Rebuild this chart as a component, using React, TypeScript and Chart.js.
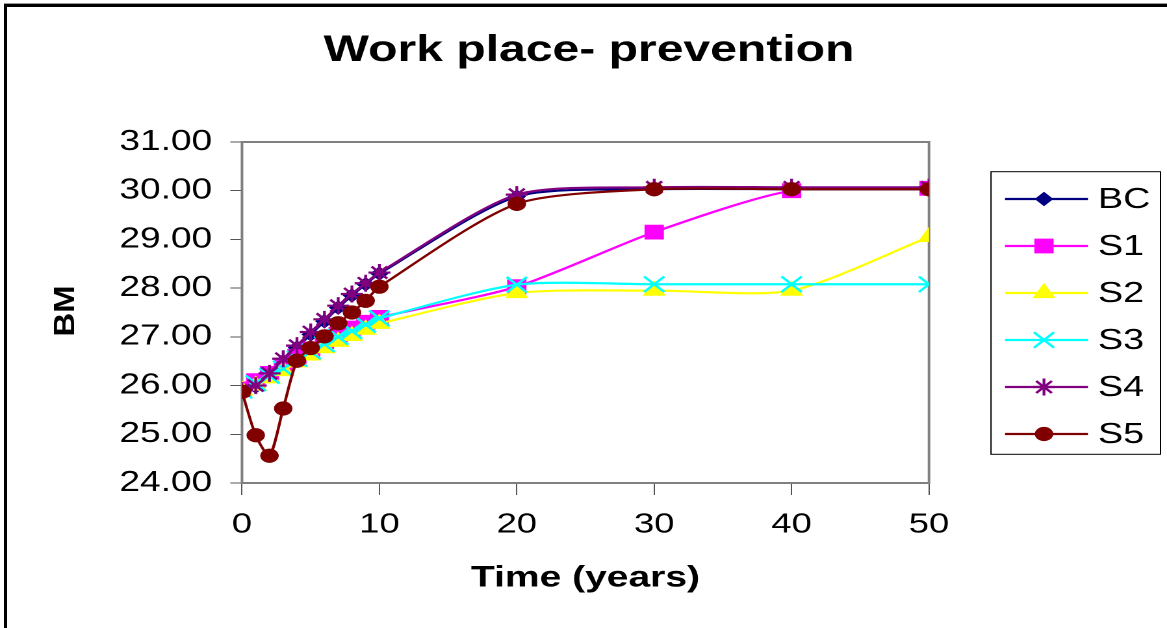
import React, { useEffect, useRef } from 'react';
import { Chart, registerables } from 'chart.js';
import { drawPoint } from 'chart.js/helpers';

Chart.register(...registerables);

// ---------- data ----------
const years = [0, 1, 2, 3, 4, 5, 6, 7, 8, 9, 10, 20, 30, 40, 50];
const bcValues = [25.87, 25.98, 26.22, 26.5, 26.78, 27.05, 27.32, 27.6, 27.85, 28.08, 28.3, 29.88, 30.03, 30.03, 30.03];
const s1Values = [25.93, 26.1, 26.25, 26.42, 26.6, 26.75, 26.9, 27.05, 27.18, 27.3, 27.4, 28.03, 29.15, 30.0, 30.05];
const s2Values = [25.9, 26.0, 26.15, 26.3, 26.48, 26.62, 26.77, 26.9, 27.02, 27.15, 27.27, 27.9, 27.95, 27.95, 29.05];
const s3Values = [25.9, 26.05, 26.2, 26.35, 26.55, 26.7, 26.85, 27.0, 27.12, 27.25, 27.38, 28.07, 28.08, 28.08, 28.08];
const s4Values = [25.9, 26.0, 26.25, 26.55, 26.82, 27.1, 27.36, 27.64, 27.88, 28.1, 28.32, 29.92, 30.07, 30.07, 30.07];
const s5Values = [25.87, 24.98, 24.56, 25.53, 26.51, 26.77, 27.01, 27.28, 27.5, 27.74, 28.03, 29.73, 30.03, 30.03, 30.03];
const seriesNames = ['BC', 'S1', 'S2', 'S3', 'S4', 'S5'];
const seriesValues = [bcValues, s1Values, s2Values, s3Values, s4Values, s5Values];
const yMin = 24;
const yMax = 31;
const yStep = 1;
const xMin = 0;
const xMax = 50;
const xStep = 10;
const chartTitle = 'Work place- prevention';
const xTitle = 'Time (years)';
const yTitle = 'BM';

// ---------- styles ----------
const FONT = "'Liberation Sans', Arial, Helvetica, sans-serif";
const PAGE_W = 1167;
const PAGE_H = 628;
const W = 898;
const H = 628;
const SX = PAGE_W / W;

const styles = [
  { color: '#000080', pointStyle: 'rectRot', radius: 6.5, bw: 1 },
  { color: '#FF00FF', pointStyle: 'rect', radius: 9.8, bw: 1 },
  { color: '#FFFF00', pointStyle: 'triangle', radius: 9.3, bw: 1 },
  { color: '#00FFFF', pointStyle: 'crossRot', radius: 11, bw: 2.2 },
  { color: '#800080', pointStyle: 'star', radius: 8.5, bw: 2.2 },
  { color: '#800000', pointStyle: 'circle', radius: 6.6, bw: 1 },
];

const PLOT_LEFT = 242 / SX;
const PLOT_RIGHT = 929 / SX;
const PLOT_TOP = 142;
const PLOT_BOTTOM = 483;

const plotBorder = {
  id: 'plotBorder',
  beforeDatasetsDraw(chart: any) {
    const { ctx, chartArea } = chart;
    ctx.save();
    ctx.strokeStyle = '#808080';
    ctx.lineWidth = 2;
    ctx.strokeRect(chartArea.left, chartArea.top, chartArea.right - chartArea.left, chartArea.bottom - chartArea.top);
    ctx.restore();
  },
};

const extras = {
  id: 'extras',
  afterDraw(chart: any) {
    const { ctx } = chart;
    // chart title
    ctx.save();
    ctx.font = `bold 37px ${FONT}`;
    ctx.fillStyle = '#000';
    ctx.textAlign = 'center';
    ctx.textBaseline = 'middle';
    ctx.fillText(chartTitle, 589 / SX, 51);
    ctx.restore();

    // y-axis title
    ctx.save();
    ctx.translate(66 / SX, 311);
    ctx.rotate(-Math.PI / 2);
    ctx.scale(1, 0.68);
    ctx.font = `bold 33px ${FONT}`;
    ctx.fillStyle = '#000';
    ctx.textAlign = 'center';
    ctx.textBaseline = 'middle';
    ctx.fillText(yTitle, 0, 0);
    ctx.restore();

    // legend
    const bx = 991 / SX;
    const bx2 = 1160.5 / SX;
    const by = 171.7;
    const by2 = 454.3;
    ctx.save();
    ctx.strokeStyle = '#000';
    ctx.lineWidth = 1;
    ctx.strokeRect(bx, by, bx2 - bx, by2 - by);
    const lx1 = 1005 / SX;
    const lx2 = 1088 / SX;
    const mx = 1044 / SX;
    const tx = 1098 / SX;
    seriesNames.forEach((name, i) => {
      const st = styles[i];
      const y = 199 + i * 47;
      ctx.strokeStyle = st.color;
      ctx.lineWidth = 2.2;
      ctx.beginPath();
      ctx.moveTo(lx1, y);
      ctx.lineTo(lx2, y);
      ctx.stroke();
      ctx.fillStyle = st.color;
      ctx.strokeStyle = st.color;
      ctx.lineWidth = st.bw;
      drawPoint(ctx, { pointStyle: st.pointStyle, radius: st.radius, rotation: 0, borderWidth: st.bw } as any, mx, y);
      ctx.fillStyle = '#000';
      ctx.font = `29px ${FONT}`;
      ctx.textAlign = 'left';
      ctx.textBaseline = 'middle';
      ctx.fillText(name, tx, y + 1);
    });
    ctx.restore();
  },
};

export default function App() {
  const ref = useRef<HTMLCanvasElement>(null);

  useEffect(() => {
    const canvas = ref.current;
    if (!canvas) return;
    const datasets = seriesNames.map((name, i) => {
      const st = styles[i];
      return {
        label: name,
        data: years.map((x, j) => ({ x, y: seriesValues[i][j] })),
        borderColor: st.color,
        backgroundColor: st.color,
        borderWidth: 2.2,
        pointStyle: st.pointStyle,
        pointRadius: st.radius,
        pointHoverRadius: st.radius,
        pointBackgroundColor: st.color,
        pointBorderColor: st.color,
        pointBorderWidth: st.bw,
        tension: 0.25,
        fill: false,
        order: 6 - i,
      };
    });

    const chart = new Chart(canvas, {
      type: 'line',
      data: { datasets } as any,
      plugins: [plotBorder, extras],
      options: {
        animation: false,
        responsive: false,
        devicePixelRatio: 2,
        layout: { padding: { left: 0, top: PLOT_TOP, right: W - PLOT_RIGHT, bottom: 0 } },
        plugins: {
          legend: { display: false },
          tooltip: { enabled: false },
          title: { display: false },
        },
        scales: {
          x: {
            type: 'linear',
            min: xMin,
            max: xMax,
            ticks: {
              stepSize: xStep,
              color: '#000',
              padding: 13,
              maxRotation: 0,
              font: { family: FONT, size: 28, lineHeight: 1.2 },
            },
            grid: { drawOnChartArea: false, drawTicks: true, tickLength: 12, color: '#555', lineWidth: 1 },
            border: { display: false },
            title: {
              display: true,
              text: xTitle,
              color: '#000',
              font: { family: FONT, size: 30, weight: 'bold', lineHeight: 1.2 },
              padding: { top: 0, bottom: 32 },
            },
            afterFit: (s: any) => {
              s.height = H - PLOT_BOTTOM;
            },
          },
          y: {
            type: 'linear',
            min: yMin,
            max: yMax,
            ticks: {
              stepSize: yStep,
              color: '#000',
              padding: 14,
              font: { family: FONT, size: 28.5, lineHeight: 1.2 },
              callback: (v: any) => Number(v).toFixed(2),
            },
            grid: { drawOnChartArea: false, drawTicks: true, tickLength: 9, color: '#555', lineWidth: 1 },
            border: { display: false },
            afterFit: (s: any) => {
              s.width = PLOT_LEFT;
            },
          },
        },
      } as any,
    });
    return () => chart.destroy();
  }, []);

  return (
    <div
      style={{
        position: 'fixed',
        left: 0,
        top: 0,
        width: PAGE_W,
        height: PAGE_H,
        overflow: 'hidden',
        background: '#fff',
      }}
    >
      <div
        style={{
          position: 'absolute',
          left: 4,
          top: 4,
          width: 3000,
          height: 3000,
          borderLeft: '3px solid #000',
          borderTop: '3px solid #000',
          boxShadow: '0 -1px 0 #999',
        }}
      />
      <div
        style={{
          position: 'absolute',
          left: 0,
          top: 0,
          width: W,
          height: H,
          transform: `scaleX(${SX})`,
          transformOrigin: '0 0',
        }}
      >
        <canvas ref={ref} width={W} height={H} style={{ width: W, height: H, display: 'block' }} />
      </div>
    </div>
  );
}
